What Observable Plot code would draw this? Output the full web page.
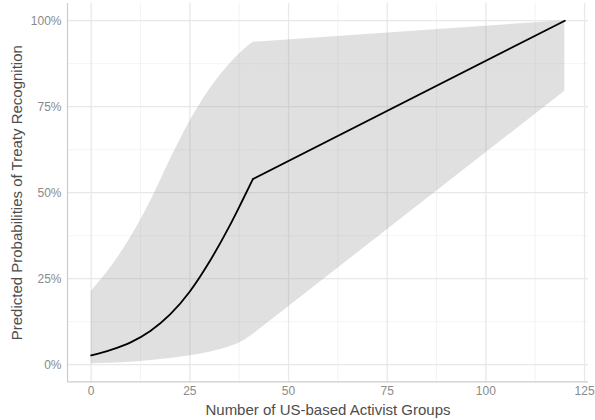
<!DOCTYPE html>
<html>
<head>
<meta charset="utf-8">
<script src="https://cdn.jsdelivr.net/npm/d3@7"></script>
<script src="https://cdn.jsdelivr.net/npm/@observablehq/plot@0.6"></script>
<style>
  html, body { margin: 0; padding: 0; background: #fff; }
  #chart { width: 595px; height: 420px; }
  #chart svg { overflow: visible; }
</style>
</head>
<body>
<div id="chart"></div>
<script>
// Predicted probability curve (line): curved part, then straight part
const lineX = [0, 5, 10, 15, 20, 25, 30, 35, 38, 41, 120];
const lineY = [0.027, 0.043, 0.065, 0.098, 0.146, 0.213, 0.300, 0.402, 0.470, 0.540, 1.0];

// Confidence band
const bandX = [0, 5, 10, 15, 20, 25, 30, 35, 38, 41, 120];
const bandLow = [0.003, 0.0045, 0.007, 0.012, 0.018, 0.026, 0.036, 0.052, 0.066, 0.088, 0.795];
const bandHigh = [0.213, 0.283, 0.37, 0.474, 0.595, 0.707, 0.80, 0.873, 0.908, 0.937, 1.0];

// x where the fitted curve turns into a straight segment
const kinkX = 41;

// Axes
const xDomain = [-6, 126];
const yDomain = [-0.05, 1.05];
const xTicks = [0, 25, 50, 75, 100, 125];
const xMinor = [12.5, 37.5, 62.5, 87.5, 112.5];
const yTicks = [0, 0.25, 0.5, 0.75, 1];
const yMinor = [0.125, 0.375, 0.625, 0.875];
const xTitle = "Number of US-based Activist Groups";
const yTitle = "Predicted Probabilities of Treaty Recognition";

const lineData = lineX.map((x, i) => ({x, y: lineY[i]}));
const bandData = bandX.map((x, i) => ({x, lo: bandLow[i], hi: bandHigh[i]}));
const curvedLine = lineData.filter(d => d.x <= kinkX);
const straightLine = lineData.filter(d => d.x >= kinkX);
const curvedBand = bandData.filter(d => d.x <= kinkX);
const straightBand = bandData.filter(d => d.x >= kinkX);

const font = "'Liberation Sans', Arial, Helvetica, sans-serif";
const bandFill = "#999999";
const bandOpacity = 0.3;

const chart = Plot.plot({
  width: 595,
  height: 420,
  marginLeft: 67,
  marginRight: 7,
  marginTop: 3,
  marginBottom: 38.6,
  style: {fontFamily: font, background: "#ffffff", overflow: "visible"},
  x: {domain: xDomain},
  y: {domain: yDomain},
  marks: [
    Plot.ruleX(xMinor, {stroke: "#f0f0f0", strokeWidth: 0.8}),
    Plot.ruleY(yMinor, {stroke: "#f0f0f0", strokeWidth: 0.8}),
    Plot.ruleX(xTicks, {stroke: "#e8e8e8", strokeWidth: 1.3}),
    Plot.ruleY(yTicks, {stroke: "#e8e8e8", strokeWidth: 1.3}),
    Plot.areaY(curvedBand, {x: "x", y1: "lo", y2: "hi", fill: bandFill, fillOpacity: bandOpacity, curve: "monotone-x"}),
    Plot.areaY(straightBand, {x: "x", y1: "lo", y2: "hi", fill: bandFill, fillOpacity: bandOpacity}),
    Plot.line(curvedLine, {x: "x", y: "y", stroke: "#000000", strokeWidth: 1.8, curve: "monotone-x"}),
    Plot.line(straightLine, {x: "x", y: "y", stroke: "#000000", strokeWidth: 1.8}),
    Plot.ruleX([xDomain[0]], {stroke: "#cccccc", strokeWidth: 1.2}),
    Plot.ruleY([yDomain[0]], {stroke: "#cccccc", strokeWidth: 1.2}),
    Plot.axisX({ticks: xTicks, tickSize: 0, tickPadding: 5, label: null, fontSize: 12, color: "#8a8a8a", tickFormat: d => String(d)}),
    Plot.axisY({ticks: yTicks, tickSize: 0, tickPadding: 6, label: null, fontSize: 12, color: "#8a8a8a", tickFormat: d => Math.round(d * 100) + "%"}),
    Plot.text([xTitle], {frameAnchor: "bottom", dy: 28, text: d => d, fontSize: 15, fill: "#4d4d4d", lineAnchor: "middle", textAnchor: "middle"}),
    Plot.text([yTitle], {frameAnchor: "left", dx: -50, rotate: -90, text: d => d, fontSize: 15, fill: "#4d4d4d", lineAnchor: "middle", textAnchor: "middle"})
  ]
});
document.getElementById("chart").appendChild(chart);
</script>
</body>
</html>
